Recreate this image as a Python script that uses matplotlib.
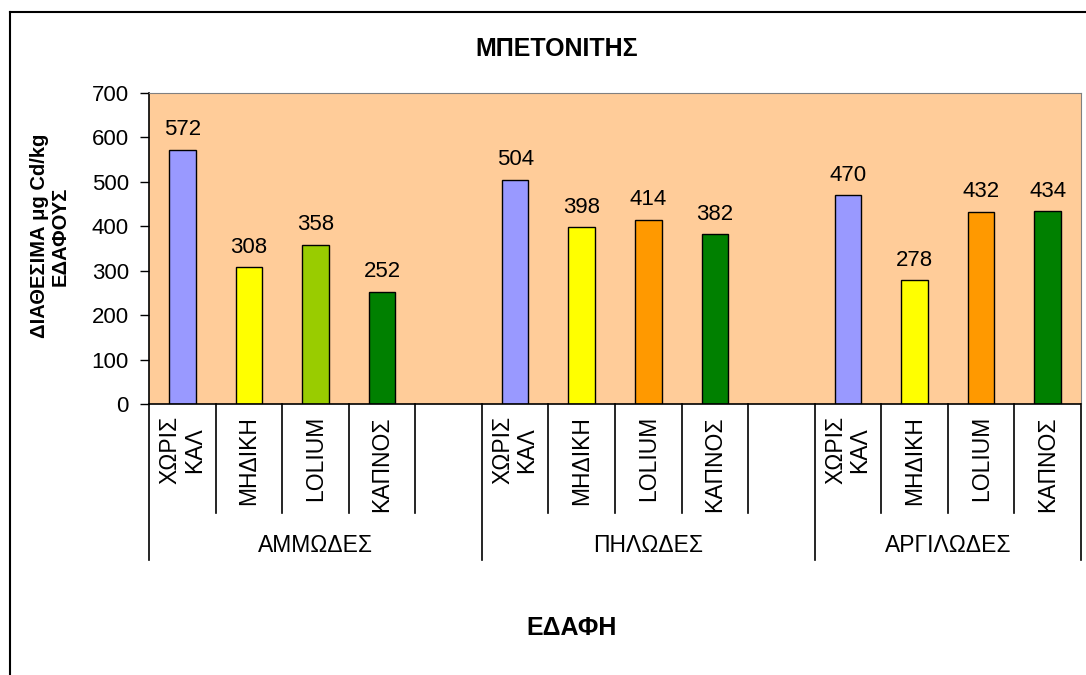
import matplotlib
matplotlib.use("Agg")
import matplotlib.pyplot as plt
import matplotlib.transforms as mtransforms
from matplotlib.lines import Line2D

plt.rcParams["font.family"] = ["Liberation Sans", "DejaVu Sans"]

GROUPS = ["ΑΜΜΩΔΕΣ", "ΠΗΛΩΔΕΣ", "ΑΡΓΙΛΩΔΕΣ"]
PLANTS = ["ΧΩΡΙΣ\nΚΑΛ", "ΜΗΔΙΚΗ", "LOLIUM", "ΚΑΠΝΟΣ"]
AMMODES = [572, 308, 358, 252]
PILODES = [504, 398, 414, 382]
ARGILODES = [470, 278, 432, 434]
COLORS_G1 = ["#9999FF", "#FFFF00", "#99CC00", "#008000"]
COLORS_G23 = ["#9999FF", "#FFFF00", "#FF9900", "#008000"]
Y_TICKS = [0, 100, 200, 300, 400, 500, 600, 700]

W, H = 1086, 675
fig = plt.figure(figsize=(W / 100, H / 100), dpi=100)
fig.patch.set_facecolor("white")

# plot area in pixels
left, right, top, bottom = 149, 1081, 93, 404
ax = fig.add_axes([left / W, 1 - bottom / H, (right - left) / W, (bottom - top) / H])
ax.set_facecolor("#FFCC99")

# 14 category slots: 4 bars + gap, 4 bars + gap, 4 bars
series = [AMMODES, PILODES, ARGILODES]
starts = [0, 5, 10]
for g, (vals, s0) in enumerate(zip(series, starts)):
    cols = COLORS_G1 if g == 0 else COLORS_G23
    xs = [s0 + i for i in range(len(vals))]
    ax.bar(xs, vals, width=0.4, color=cols, edgecolor="black", linewidth=1, zorder=2)
    for x, v in zip(xs, vals):
        ax.annotate(str(v), (x, v), xytext=(0, 10.5), textcoords="offset points",
                    ha="center", va="baseline", fontsize=16)

ax.set_xlim(-0.5, 13.5)
ax.set_ylim(0, 700)
ax.set_yticks(Y_TICKS)
ax.tick_params(axis="y", direction="out", length=6.5, width=1, labelsize=16, pad=8)
ax.set_xticks([])
for side in ["top", "right"]:
    ax.spines[side].set_color("#808080")
ax.spines["left"].set_linewidth(1.2)
ax.spines["bottom"].set_linewidth(1.2)

# multi-level category axis
trans = mtransforms.blended_transform_factory(ax.transData, ax.transAxes)
ph = bottom - top
y_inner = -(513 - bottom) / ph
y_outer = -(560 - bottom) / ph
group_edges = [-0.5, 4.5, 9.5, 13.5]
for k in range(15):
    xe = k - 0.5
    y_end = y_outer if xe in group_edges else y_inner
    ax.add_line(Line2D([xe, xe], [0, y_end], transform=trans, color="black",
                       linewidth=1.2, clip_on=False))

for s0 in starts:
    for i, name in enumerate(PLANTS):
        ax.text(s0 + i, -(416 - bottom) / ph, name, transform=trans, rotation=90,
                ha="center", va="top", multialignment="center", fontsize=16.5,
                linespacing=1.05)

group_bounds = [(-0.5, 4.5), (4.5, 9.5), (9.5, 13.5)]
for name, (a, b) in zip(GROUPS, group_bounds):
    ax.text((a + b) / 2, -(545 - bottom) / ph, name, transform=trans,
            ha="center", va="center", fontsize=16.5)

# titles
fig.text(557 / W, 1 - 49 / H, "ΜΠΕΤΟΝΙΤΗΣ", ha="center", va="center",
         fontsize=18, fontweight="bold")
fig.text(572 / W, 1 - 628 / H, "ΕΔΑΦΗ", ha="center", va="center",
         fontsize=18, fontweight="bold")
fig.text(50 / W, 1 - 236 / H, "ΔΙΑΘΕΣΙΜΑ μg Cd/kg\nΕΔΑΦΟΥΣ", rotation=90,
         ha="center", va="center", multialignment="center", fontsize=14.5,
         fontweight="bold", linespacing=1.1)

# chart border (left and top edges visible)
fig.add_artist(Line2D([10 / W, 10 / W], [0, 1 - 12 / H], color="black", linewidth=1.5))
fig.add_artist(Line2D([10 / W, 1], [1 - 12 / H, 1 - 12 / H], color="black", linewidth=1.5))

fig.savefig("out.png", dpi=100)
